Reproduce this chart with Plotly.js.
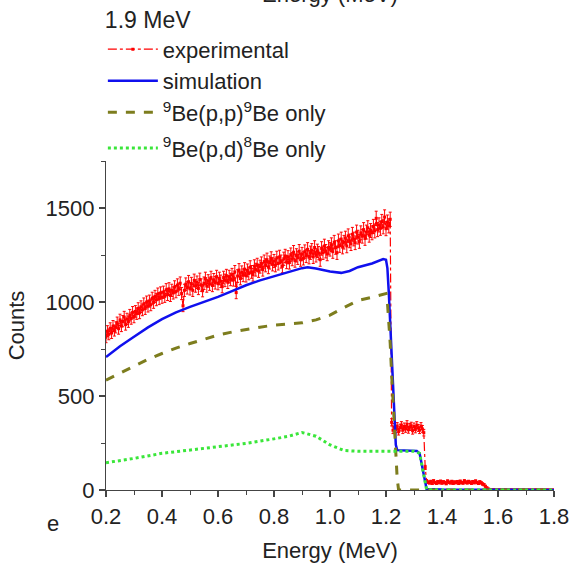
<!DOCTYPE html>
<html>
<head>
<meta charset="utf-8">
<script src="https://cdn.plot.ly/plotly-3.0.1.min.js"></script>
<style>
html,body{margin:0;padding:0;background:#fff;}
#chart{width:571px;height:568px;}
</style>
</head>
<body>
<div id="chart"></div>
<script>
// ---- Data ----
// experimental spectrum: channel energies start at 0.200 MeV, step 0.005 MeV
const expStart = 0.2;
const expStep = 0.005;
const expCounts = [
  812, 845, 828, 860, 835, 872, 848, 865, 890, 858,
  905, 872, 898, 920, 880, 910, 895, 930, 912, 945,
  920, 950, 938, 965, 942, 975, 958, 990, 965, 1000,
  978, 1005, 985, 1020, 998, 1030, 1012, 1042, 1018, 1048,
  1025, 1052, 1030, 1065, 1040, 1070, 1035, 1062, 1048, 1080,
  1055, 1090, 1068, 1100, 1045, 980, 1062, 1095, 1075, 1108,
  1070, 1098, 1062, 1115, 1085, 1105, 1072, 1120, 1090, 1060,
  1100, 1125, 1085, 1112, 1095, 1130, 1088, 1118, 1102, 1135,
  1098, 1125, 1110, 1082, 1130, 1115, 1140, 1105, 1135, 1120,
  1145, 1118, 1160, 1050, 1138, 1170, 1125, 1158, 1142, 1175,
  1140, 1168, 1152, 1185, 1160, 1145, 1190, 1172, 1198, 1165,
  1188, 1205, 1172, 1215, 1195, 1225, 1185, 1210, 1232, 1200,
  1218, 1195, 1235, 1205, 1240, 1215, 1190, 1230, 1245, 1212,
  1238, 1210, 1252, 1228, 1265, 1220, 1248, 1235, 1270, 1225,
  1255, 1232, 1268, 1245, 1280, 1238, 1262, 1275, 1240, 1290,
  1248, 1272, 1260, 1225, 1285, 1262, 1298, 1270, 1255, 1290,
  1280, 1305, 1268, 1318, 1290, 1262, 1325, 1300, 1335, 1292,
  1318, 1340, 1298, 1352, 1325, 1310, 1360, 1335, 1315, 1372,
  1345, 1322, 1368, 1350, 1385, 1338, 1372, 1395, 1355, 1380,
  1368, 1402, 1378, 1445, 1385, 1410, 1392, 1428, 1400, 1452,
  1390, 1425, 1405, 1440,
  360, 318, 335, 322, 340, 310,
  332, 345, 318, 338, 325, 350, 320, 335, 342, 315,
  338, 322, 345, 330, 318, 340, 325, 305,
  120, 48,
  42, 38, 45, 35, 48, 40, 36, 44, 39, 46,
  37, 43, 40, 34, 47, 41, 38, 45, 36, 42,
  39, 44, 35, 46, 40, 37, 48, 42, 38, 45,
  41, 36, 44, 39, 47, 40, 35, 43, 38, 32,
  28, 20, 12, 6, 3, 2, 1, 2, 0, 1,
  0, 1, 0, 0, 2, 0, 1, 0, 0, 1,
  0, 0, 1, 0, 0, 0, 1, 0, 0, 0,
  0, 1, 0, 0, 0, 0, 0, 1, 0, 0,
  0, 0, 0, 1, 0, 0, 0, 0, 0, 0,
  0
];

// simulation
const simE = [0.2, 0.25, 0.3, 0.35, 0.4, 0.45, 0.5, 0.55, 0.6, 0.65, 0.7, 0.75, 0.8, 0.85, 0.9, 0.92, 0.95, 1.0, 1.04, 1.07, 1.1, 1.15, 1.19, 1.2, 1.205, 1.21, 1.215, 1.22, 1.225, 1.23, 1.235, 1.24, 1.28, 1.31, 1.32, 1.33, 1.34, 1.345, 1.4, 1.6, 1.8];
const simY = [707, 765, 815, 865, 909, 945, 974, 1000, 1027, 1058, 1089, 1115, 1138, 1160, 1180, 1185, 1178, 1162, 1155, 1165, 1185, 1205, 1228, 1225, 1180, 1050, 880, 700, 520, 340, 240, 212, 210, 208, 195, 120, 30, 5, 2, 1, 0];

// 9Be(p,p)9Be only
const ppE = [0.2, 0.25, 0.3, 0.35, 0.4, 0.45, 0.5, 0.55, 0.6, 0.65, 0.7, 0.75, 0.8, 0.85, 0.9, 0.95, 1.0, 1.05, 1.1, 1.15, 1.19, 1.2, 1.205, 1.21, 1.215, 1.22, 1.225, 1.23, 1.235, 1.24, 1.245, 1.3, 1.5, 1.8];
const ppY = [584, 622, 656, 695, 726, 755, 779, 803, 824, 840, 854, 866, 877, 882, 889, 905, 930, 970, 1008, 1025, 1040, 1045, 1000, 900, 780, 620, 460, 300, 160, 60, 0, 0, 0, 0];

// 9Be(p,d)8Be only
const pdE = [0.2, 0.3, 0.4, 0.5, 0.6, 0.7, 0.8, 0.85, 0.9, 0.95, 1.0, 1.05, 1.1, 1.2, 1.3, 1.32, 1.33, 1.34, 1.345, 1.4, 1.6, 1.8];
const pdY = [145, 168, 195, 213, 227, 248, 272, 285, 306, 286, 240, 210, 206, 205, 206, 195, 120, 30, 2, 0, 0, 0];

const xTickVals = [0.2, 0.4, 0.6, 0.8, 1.0, 1.2, 1.4, 1.6, 1.8];
const xTickText = ["0.2", "0.4", "0.6", "0.8", "1.0", "1.2", "1.4", "1.6", "1.8"];
const yTickVals = [0, 500, 1000, 1500];

const legendTitle = "1.9 MeV";
const names = ["experimental", "simulation", "<sup>9</sup>Be(p,p)<sup>9</sup>Be only", "<sup>9</sup>Be(p,d)<sup>8</sup>Be only"];

// ---- Build ----
const expE = expCounts.map((_, i) => +(expStart + i * expStep).toFixed(3));
const FONT = "Liberation Sans, Arial, sans-serif";
const TXT = "#222";

const traces = [
  {
    x: expE, y: expCounts, name: names[0], type: "scatter", mode: "lines+markers",
    legendgroup: "a",
    line: {color: "#ff0000", width: 1.2, dash: "dashdot"},
    marker: {color: "#ff0000", size: 3, symbol: "square"},
    error_y: {type: "sqrt", color: "#ff0000", thickness: 1, width: 1.5, visible: true}
  },
  {
    x: simE, y: simY, name: names[1], type: "scatter", mode: "lines",
    legendgroup: "a",
    line: {color: "#1010ee", width: 2.5}
  },
  {
    x: ppE, y: ppY, name: names[2], type: "scatter", mode: "lines",
    legendgroup: "a",
    line: {color: "#7d7d1e", width: 3, dash: "dash"}
  },
  {
    x: pdE, y: pdY, name: names[3], type: "scatter", mode: "lines",
    legendgroup: "b",
    line: {color: "#3ae63a", width: 3, dash: "dot"}
  }
];

const layout = {
  width: 571, height: 568,
  margin: {l: 106, r: 17, t: 161, b: 78, autoexpand: false},
  paper_bgcolor: "#fff", plot_bgcolor: "#fff",
  font: {family: FONT, size: 22, color: TXT},
  showlegend: true,
  legend: {
    x: -0.007, xanchor: "left", y: 1.494, yanchor: "top",
    bgcolor: "rgba(0,0,0,0)", borderwidth: 0,
    traceorder: "grouped", tracegroupgap: 4,
    title: {text: legendTitle, font: {family: FONT, size: 23, color: TXT}},
    font: {family: FONT, size: 22, color: TXT},
    itemwidth: 50
  },
  xaxis: {
    range: [0.2, 1.8], tickvals: xTickVals, ticktext: xTickText,
    showline: true, linecolor: "#444", linewidth: 1.2, mirror: false,
    ticks: "outside", ticklen: 6, tickwidth: 1.2, tickcolor: "#444",
    minor: {dtick: 0.1, ticks: "outside", ticklen: 4, tickwidth: 1, tickcolor: "#444"},
    showgrid: false, zeroline: false,
    tickfont: {family: FONT, size: 22, color: TXT},
    title: {text: "Energy (MeV)", font: {family: FONT, size: 22, color: TXT}, standoff: 15}
  },
  yaxis: {
    range: [0, 1750], tickvals: yTickVals,
    showline: true, linecolor: "#444", linewidth: 1.2, mirror: false,
    ticks: "outside", ticklen: 6, tickwidth: 1.2, tickcolor: "#444",
    minor: {dtick: 250, ticks: "outside", ticklen: 4, tickwidth: 1, tickcolor: "#444"},
    showgrid: false, zeroline: false,
    tickfont: {family: FONT, size: 22, color: TXT},
    title: {text: "Counts", font: {family: FONT, size: 22, color: TXT}, standoff: 14}
  },
  annotations: [
    {text: "e", xref: "paper", yref: "paper", x: -0.136, y: -0.145, showarrow: false,
     font: {family: FONT, size: 22, color: TXT}},
    {text: "Energy (MeV)", xref: "paper", yref: "paper", x: 0.5, y: 1.505, xanchor: "center", yanchor: "middle",
     showarrow: false, font: {family: FONT, size: 22, color: TXT}}
  ]
};

Plotly.newPlot("chart", traces, layout, {displayModeBar: false, staticPlot: true});
</script>
</body>
</html>
